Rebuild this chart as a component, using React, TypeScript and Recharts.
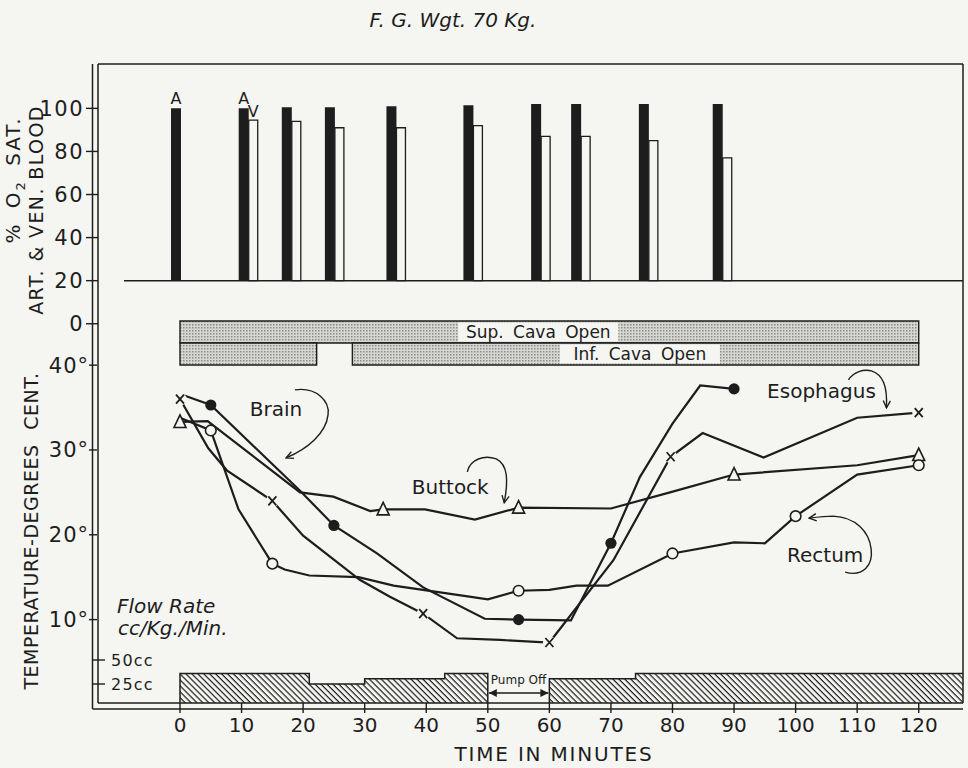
import React from 'react';
import {
  ComposedChart,
  BarChart,
  Bar,
  Line,
  Area,
  XAxis,
  YAxis,
  ReferenceArea,
  ReferenceLine,
  ReferenceDot,
  LabelList,
} from 'recharts';

const W = 968;
const H = 768;
const INK = '#1d1d1d';
const PAPER = '#f5f5f2';
const FONT = '"DejaVu Sans", Verdana, sans-serif';

// time axis, minutes
const timeDomain = [-13.32, 127.19];
const timeTicks = [0, 10, 20, 30, 40, 50, 60, 70, 80, 90, 100, 110, 120];

// % O2 saturation, arterial (black) and venous (white)
const satTimes = [0, 11, 18, 25, 35, 47.5, 58.5, 65, 76, 88];
const artSat = [100, 100, 100.5, 100.5, 101, 101.5, 102, 102, 102, 102];
const venSat = [null, 94.5, 94, 91, 91, 92, 87, 87, 85, 77];
const artTags = ['A', 'A', null, null, null, null, null, null, null, null];
const venTags = [null, 'V', null, null, null, null, null, null, null, null];
const satBase = 20;
const satTicks = [0, 20, 40, 60, 80, 100];

// temperatures, deg C  (1 = plotted symbol)
const brainTimes = [0, 5, 19.5, 25, 32, 39.5, 49.5, 55, 63.5, 70, 74.7, 80, 84.5, 90];
const brainTemps = [36.6, 35.3, 25.2, 21.1, 17.8, 13.8, 10.1, 10, 9.9, 19, 26.8, 33.1, 37.6, 37.2];
const brainMarks = [0, 1, 0, 1, 0, 0, 0, 1, 0, 1, 0, 0, 0, 1];

const esoTimes = [0, 4.6, 7.6, 15, 20, 29.2, 34.1, 39.5, 45, 52, 60, 70.4, 79.7, 84.9, 94.8, 110, 120];
const esoTemps = [36, 30.2, 27.6, 24, 19.9, 14.7, 12.7, 10.7, 7.8, 7.6, 7.3, 17, 29.2, 32, 29.1, 33.8, 34.4];
const esoMarks = [1, 0, 0, 1, 0, 0, 0, 1, 0, 0, 1, 0, 1, 0, 0, 0, 1];

const rectTimes = [0, 5, 9.5, 15, 17, 21, 29, 34.7, 47, 50, 55, 60, 64.4, 69.5, 80, 90, 95, 100, 110, 120];
const rectTemps = [33.8, 32.3, 23, 16.6, 15.9, 15.2, 15, 14, 12.7, 12.4, 13.4, 13.5, 14, 14, 17.8, 19.1, 19, 22.2, 27.1, 28.2];
const rectMarks = [0, 1, 0, 1, 0, 0, 0, 0, 0, 0, 1, 0, 0, 0, 1, 0, 0, 1, 0, 1];

const buttTimes = [0, 4.5, 19.5, 24.9, 30.9, 33, 39.8, 47.9, 55, 70, 79.6, 90, 110, 120];
const buttTemps = [33.3, 33.4, 25, 24.5, 22.8, 23, 23, 21.8, 23.2, 23.1, 25, 27.1, 28.2, 29.4];
const buttMarks = [1, 0, 0, 0, 0, 1, 0, 0, 1, 0, 0, 1, 0, 1];

const tempTicks = [10, 20, 30, 40];

// flow rate, cc/Kg./Min. (0 = pump off)
const flowTimes = [0, 0, 21, 30, 43, 50, 60, 74, 127.19];
const flowRates = [0, 36, 25, 30.5, 36, 0, 30.5, 36, 36];
const flowTicks = [25, 50];

// caval occlusion bands (lane 1 = superior, lane 0 = inferior)
const supCavaOpen = [[0, 120]];
const infCavaOpen = [[0, 22.2], [28, 120]];
const supLabelAt = 58.2;
const infLabelAt = 74.7;

const noteNames = ['Brain', 'Buttock', 'Esophagus', 'Rectum'];
const noteTimes = [15.6, 43.9, 104.2, 104.8];
const noteTemps = [34.85, 25.65, 36.97, 17.6];

// panel placement on the shared plot area
const satDomain = [-176.1, 120.6];
const tempDomain = [0.17, 75.5];
const flowDomain = [5.2, 670.8];
const laneDomain = [-15.36, 13.68];

const noteArrows: Record<string, string> = {
  Brain: 'M19,-19 C40,-22 54,-8 52,6 C50,24 32,40 10,49',
  Buttock: 'M17,-15 C20,-28 34,-32 46,-28 C58,-22 58,-6 54,16',
  Esophagus: 'M27,-11 C32,-19 42,-22 50,-20 C62,-16 66,-4 65,17',
  Rectum: 'M20,17 C38,22 48,10 46,-6 C44,-24 30,-38 8,-39 C0,-39 -8,-38 -16,-37',
};

const satData = satTimes.map((t, i) => ({
  t,
  art: artSat[i],
  ven: venSat[i],
  artTag: artTags[i],
  venTag: venTags[i],
}));

const toSeries = (ts: number[], vs: number[], ms: number[]) =>
  ts.map((t, i) => ({ t, v: vs[i], m: ms[i] }));

const brainData = toSeries(brainTimes, brainTemps, brainMarks);
const esoData = toSeries(esoTimes, esoTemps, esoMarks);
const rectData = toSeries(rectTimes, rectTemps, rectMarks);
const buttData = toSeries(buttTimes, buttTemps, buttMarks);
const flowData = flowTimes.map((t, i) => ({ t, flow: flowRates[i] }));

const markerDot = (kind: string) => (props: any) => {
  const { cx, cy, payload, index } = props;
  const key = `${kind}-${index}`;
  if (!payload || !payload.m || cx == null || cy == null) return <g key={key} />;
  if (kind === 'disc') return <circle key={key} cx={cx} cy={cy} r={5.6} fill={INK} />;
  if (kind === 'ring')
    return <circle key={key} cx={cx} cy={cy} r={5.3} fill={PAPER} stroke={INK} strokeWidth={1.6} />;
  if (kind === 'tri')
    return (
      <polygon
        key={key}
        points={`${cx},${cy - 7} ${cx - 6},${cy + 5.5} ${cx + 6},${cy + 5.5}`}
        fill={PAPER}
        stroke={INK}
        strokeWidth={1.6}
      />
    );
  return (
    <g key={key}>
      <circle cx={cx} cy={cy} r={6.5} fill={PAPER} />
      <path
        d={`M${cx - 4},${cy - 4.5} L${cx + 4},${cy + 4.5} M${cx + 4},${cy - 4.5} L${cx - 4},${cy + 4.5}`}
        stroke={INK}
        strokeWidth={1.8}
      />
    </g>
  );
};

const FlowTick = (props: any) => {
  const { x, y, payload } = props;
  return (
    <g>
      <line x1={x - 4} x2={x + 9} y1={y} y2={y} stroke={INK} strokeWidth={1.4} />
      <text x={x + 15} y={y} dy="0.36em" fill={INK} fontSize={16} fontFamily={FONT} letterSpacing={1.2}>
        {payload.value}cc
      </text>
    </g>
  );
};

const CavaTag = (props: any) => {
  const { cx, cy, text } = props;
  return (
    <g>
      <rect x={cx - 80} y={cy - 9.5} width={160} height={19} fill={PAPER} />
      <text x={cx} y={cy} dy="0.36em" textAnchor="middle" fill={INK} fontSize={17} fontFamily={FONT} wordSpacing={4}>
        {text}
      </text>
    </g>
  );
};

const NoteShape = (props: any) => {
  const { cx, cy, name } = props;
  return (
    <g>
      <text x={cx} y={cy} dy="0.36em" textAnchor="middle" fill={INK} fontSize={20} fontFamily={FONT}>
        {name}
      </text>
      <path
        d={noteArrows[name]}
        transform={`translate(${cx},${cy})`}
        fill="none"
        stroke={INK}
        strokeWidth={1.4}
        markerEnd="url(#openHead)"
      />
    </g>
  );
};

const PumpOff = (props: any) => {
  const { x1, y1, x2 } = props;
  return (
    <g>
      <line
        x1={x1 + 1}
        y1={y1}
        x2={x2 - 1}
        y2={y1}
        stroke={INK}
        strokeWidth={1.3}
        markerStart="url(#solidHead)"
        markerEnd="url(#solidHead)"
      />
      <text x={(x1 + x2) / 2} y={y1 - 9} textAnchor="middle" fill={INK} fontSize={12} fontFamily={FONT}>
        Pump Off
      </text>
    </g>
  );
};

const axisLine = { stroke: INK, strokeWidth: 1.5 };

export default function App() {
  return (
    <div style={{ position: 'absolute', left: 0, top: 0, width: W, height: H, background: PAPER }}>
      {/* O2 saturation bars */}
      <div style={{ position: 'absolute', left: 0, top: 0 }}>
        <BarChart
          width={W}
          height={H}
          data={satData}
          margin={{ top: 64, right: 5, bottom: 65, left: 98 }}
          barGap={0}
        >
          <XAxis xAxisId="t" type="number" dataKey="t" domain={timeDomain} allowDataOverflow hide />
          <YAxis yAxisId="sat" type="number" domain={satDomain} allowDataOverflow hide />
          <ReferenceLine
            xAxisId="t"
            yAxisId="sat"
            segment={[
              { x: -9.1, y: satBase },
              { x: 127.19, y: satBase },
            ]}
            stroke={INK}
            strokeWidth={1.5}
            ifOverflow="visible"
          />
          <Bar
            xAxisId="t"
            yAxisId="sat"
            dataKey={(d: any) => [satBase, d.art]}
            barSize={10}
            fill={INK}
            isAnimationActive={false}
          >
            <LabelList dataKey="artTag" position="top" offset={4} fill={INK} fontSize={16} fontFamily={FONT} />
          </Bar>
          <Bar
            xAxisId="t"
            yAxisId="sat"
            dataKey={(d: any) => (d.ven == null ? null : [satBase, d.ven])}
            barSize={9}
            fill={PAPER}
            stroke={INK}
            strokeWidth={1.3}
            isAnimationActive={false}
          >
            <LabelList dataKey="venTag" position="top" offset={3} fill={INK} fontSize={16} fontFamily={FONT} />
          </Bar>
        </BarChart>
      </div>

      {/* temperatures, flow, cava bands, frame */}
      <div style={{ position: 'absolute', left: 0, top: 0 }}>
        <ComposedChart width={W} height={H} data={flowData} margin={{ top: 63, right: 4, bottom: 0, left: 95 }}>
          <defs>
            <pattern id="stipple" width="3" height="3" patternUnits="userSpaceOnUse">
              <rect width="3" height="3" fill="#d6d6d3" />
              <rect width="1.5" height="1.5" fill="#8a8a87" />
            </pattern>
            <pattern id="hatch" width="4.2" height="4.2" patternUnits="userSpaceOnUse" patternTransform="rotate(45)">
              <rect width="4.2" height="1.2" fill={INK} />
            </pattern>
            <marker
              id="openHead"
              viewBox="0 0 10 10"
              refX="9"
              refY="5"
              markerWidth="9"
              markerHeight="9"
              markerUnits="userSpaceOnUse"
              orient="auto"
            >
              <path d="M1,1 L9,5 L1,9" fill="none" stroke={INK} strokeWidth="1.5" />
            </marker>
            <marker
              id="solidHead"
              viewBox="0 0 10 10"
              refX="10"
              refY="5"
              markerWidth="8"
              markerHeight="8"
              markerUnits="userSpaceOnUse"
              orient="auto-start-reverse"
            >
              <path d="M0,0 L10,5 L0,10 z" fill={INK} />
            </marker>
          </defs>

          <XAxis
            xAxisId="t"
            type="number"
            dataKey="t"
            domain={timeDomain}
            allowDataOverflow
            ticks={timeTicks}
            interval={0}
            height={65}
            tickSize={10}
            tickMargin={5}
            axisLine={axisLine}
            tickLine={{ stroke: INK, strokeWidth: 1.4 }}
            tick={{ fill: INK, fontSize: 20, fontFamily: FONT }}
          />
          <XAxis
            xAxisId="top"
            orientation="top"
            type="number"
            domain={timeDomain}
            allowDataOverflow
            height={1}
            tick={false}
            tickLine={false}
            axisLine={axisLine}
          />
          {/* left axes are stacked in id order: a1 sits on the plot edge */}
          <YAxis
            yAxisId="a1sat"
            type="number"
            domain={satDomain}
            allowDataOverflow
            ticks={satTicks}
            interval={0}
            width={1}
            tickSize={12}
            tickMargin={2}
            axisLine={axisLine}
            tickLine={{ stroke: INK, strokeWidth: 1.4 }}
            tick={{ fill: INK, fontSize: 21, fontFamily: FONT, letterSpacing: 1.5 }}
          />
          <YAxis
            yAxisId="a2temp"
            type="number"
            domain={tempDomain}
            allowDataOverflow
            ticks={tempTicks}
            interval={0}
            width={1}
            tickSize={8}
            tickMargin={0}
            axisLine={false}
            tickLine={{ stroke: INK, strokeWidth: 1.4 }}
            tickFormatter={(v: number) => `${v}°`}
            tick={{ fill: INK, fontSize: 21, fontFamily: FONT, letterSpacing: 1 }}
          />
          <YAxis
            yAxisId="a3flow"
            type="number"
            domain={flowDomain}
            allowDataOverflow
            ticks={flowTicks}
            interval={0}
            width={1}
            tickSize={0}
            tickMargin={0}
            axisLine={false}
            tickLine={false}
            tick={<FlowTick />}
          />
          <YAxis yAxisId="zlane" type="number" domain={laneDomain} allowDataOverflow hide width={0} />
          <YAxis
            yAxisId="right"
            orientation="right"
            type="number"
            domain={[0, 1]}
            width={1}
            tick={false}
            tickLine={false}
            axisLine={axisLine}
          />

          {supCavaOpen.map(([a, b], i) => (
            <ReferenceArea
              key={`sup-${i}`}
              xAxisId="t"
              yAxisId="zlane"
              x1={a}
              x2={b}
              y1={1}
              y2={2}
              fill="url(#stipple)"
              fillOpacity={1}
              stroke={INK}
              strokeWidth={1.4}
            />
          ))}
          {infCavaOpen.map(([a, b], i) => (
            <ReferenceArea
              key={`inf-${i}`}
              xAxisId="t"
              yAxisId="zlane"
              x1={a}
              x2={b}
              y1={0}
              y2={1}
              fill="url(#stipple)"
              fillOpacity={1}
              stroke={INK}
              strokeWidth={1.4}
            />
          ))}
          <ReferenceDot
            xAxisId="t"
            yAxisId="zlane"
            x={supLabelAt}
            y={1.5}
            r={0}
            shape={(p: any) => <CavaTag {...p} text="Sup. Cava Open" />}
          />
          <ReferenceDot
            xAxisId="t"
            yAxisId="zlane"
            x={infLabelAt}
            y={0.5}
            r={0}
            shape={(p: any) => <CavaTag {...p} text="Inf. Cava Open" />}
          />

          <Area
            xAxisId="t"
            yAxisId="a3flow"
            type="stepAfter"
            dataKey="flow"
            stroke={INK}
            strokeWidth={1.5}
            fill="url(#hatch)"
            fillOpacity={1}
            dot={false}
            activeDot={false}
            isAnimationActive={false}
          />
          <ReferenceLine
            xAxisId="t"
            yAxisId="a3flow"
            segment={[
              { x: 50, y: 15.6 },
              { x: 60, y: 15.6 },
            ]}
            shape={(p: any) => <PumpOff {...p} />}
          />

          <Line
            xAxisId="t"
            yAxisId="a2temp"
            data={buttData}
            dataKey="v"
            type="linear"
            stroke={INK}
            strokeWidth={2.2}
            dot={markerDot('tri')}
            activeDot={false}
            isAnimationActive={false}
          />
          <Line
            xAxisId="t"
            yAxisId="a2temp"
            data={rectData}
            dataKey="v"
            type="linear"
            stroke={INK}
            strokeWidth={2.2}
            dot={markerDot('ring')}
            activeDot={false}
            isAnimationActive={false}
          />
          <Line
            xAxisId="t"
            yAxisId="a2temp"
            data={esoData}
            dataKey="v"
            type="linear"
            stroke={INK}
            strokeWidth={2.2}
            dot={markerDot('cross')}
            activeDot={false}
            isAnimationActive={false}
          />
          <Line
            xAxisId="t"
            yAxisId="a2temp"
            data={brainData}
            dataKey="v"
            type="linear"
            stroke={INK}
            strokeWidth={2.2}
            dot={markerDot('disc')}
            activeDot={false}
            isAnimationActive={false}
          />

          {noteNames.map((name, i) => (
            <ReferenceDot
              key={name}
              xAxisId="t"
              yAxisId="a2temp"
              x={noteTimes[i]}
              y={noteTemps[i]}
              r={0}
              shape={(p: any) => <NoteShape {...p} name={name} />}
            />
          ))}
        </ComposedChart>
      </div>

      {/* titles and outer frame */}
      <svg width={W} height={H} style={{ position: 'absolute', left: 0, top: 0, pointerEvents: 'none' }}>
        <text x={453} y={27} textAnchor="middle" fill={INK} fontSize={20} fontStyle="italic" fontFamily={FONT}>
          F. G. Wgt. 70 Kg.
        </text>
        <text
          transform="translate(20,180) rotate(-90)"
          textAnchor="middle"
          fill={INK}
          fontSize={20}
          fontFamily={FONT}
          letterSpacing={2}
          wordSpacing={6}
        >
          % O<tspan fontSize={13} dy={5}>2</tspan>
          <tspan dy={-5}> SAT.</tspan>
        </text>
        <text
          transform="translate(43,210) rotate(-90)"
          textAnchor="middle"
          fill={INK}
          fontSize={19}
          fontFamily={FONT}
          letterSpacing={1.4}
        >
          ART. &amp; VEN. BLOOD
        </text>
        <text
          transform="translate(38,531) rotate(-90)"
          textAnchor="middle"
          fill={INK}
          fontSize={19}
          fontFamily={FONT}
          letterSpacing={0.5}
          wordSpacing={8}
        >
          TEMPERATURE-DEGREES CENT.
        </text>
        <text x={117} y={613} fill={INK} fontSize={20} fontStyle="italic" fontFamily={FONT}>
          Flow Rate
        </text>
        <text x={118} y={635} fill={INK} fontSize={20} fontStyle="italic" fontFamily={FONT}>
          cc/Kg./Min.
        </text>
        <text x={554} y={761} textAnchor="middle" fill={INK} fontSize={20} fontFamily={FONT} letterSpacing={1.8}>
          TIME IN MINUTES
        </text>
        <line x1={92.5} y1={64} x2={92.5} y2={709} stroke={INK} strokeWidth={1.5} />
        <line x1={92.5} y1={709} x2={963} y2={709} stroke={INK} strokeWidth={1.5} />
      </svg>
    </div>
  );
}
